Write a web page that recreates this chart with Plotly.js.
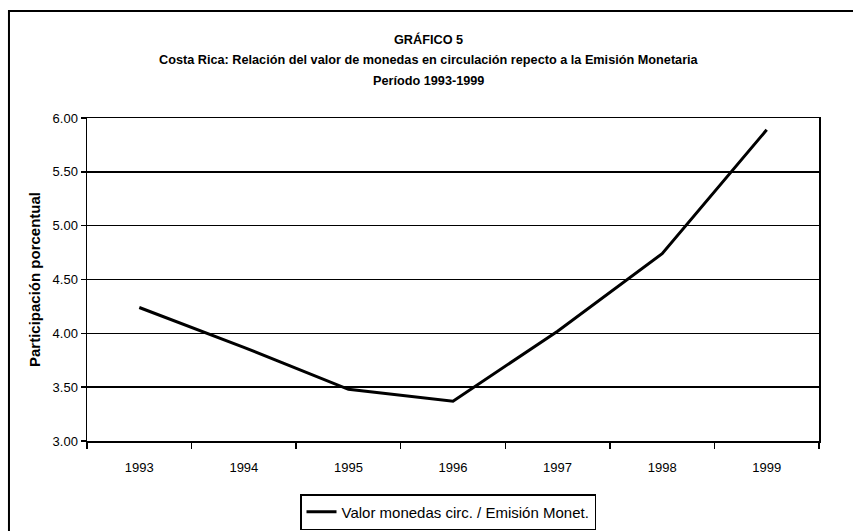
<!DOCTYPE html>
<html>
<head>
<meta charset="utf-8">
<script src="https://cdn.plot.ly/plotly-3.0.1.min.js"></script>
<style>html,body{margin:0;padding:0;background:#fff;}#chart{width:853px;height:531px;}</style>
</head>
<body>
<div id="chart"></div>
<script>
var years = ["1993", "1994", "1995", "1996", "1997", "1998", "1999"];
var ratio = [4.24, 3.87, 3.48, 3.37, 4.02, 4.74, 5.89];
var seriesName = "Valor monedas circ. / Emisión Monet.";
var yTicks = [3.0, 3.5, 4.0, 4.5, 5.0, 5.5, 6.0];
var titleLines = [
  "GRÁFICO 5",
  "Costa Rica: Relación del valor de monedas en circulación repecto a la Emisión Monetaria",
  "Período 1993-1999"
];

var FONT = "Liberation Sans, Arial, sans-serif";

var trace = {
  x: years,
  y: ratio,
  type: "scatter",
  mode: "lines",
  name: seriesName,
  line: {color: "#000000", width: 3}
};

var titleY = [1.2415, 1.1796, 1.1146];
var annotations = titleLines.map(function (t, i) {
  return {
    text: "<b>" + t + "</b>",
    xref: "paper", yref: "paper",
    x: 0.467, y: titleY[i],
    xanchor: "center", yanchor: "middle",
    showarrow: false,
    font: {family: FONT, size: 12.7, color: "#000000"}
  };
});

var layout = {
  width: 853,
  height: 531,
  margin: {l: 87, r: 34, t: 118, b: 90},
  paper_bgcolor: "#ffffff",
  plot_bgcolor: "#ffffff",
  font: {family: FONT, color: "#000000", size: 13},
  xaxis: {
    type: "category",
    range: [-0.5, 6.5],
    showgrid: false,
    showline: true, linecolor: "#000000", linewidth: 1.5,
    mirror: true,
    ticks: "outside", ticklen: 6, tickwidth: 1.5, tickcolor: "#000000",
    tickson: "boundaries",
    ticklabelstandoff: 14,
    tickfont: {family: FONT, size: 13},
    zeroline: false,
    automargin: false,
    fixedrange: true
  },
  yaxis: {
    range: [3, 6],
    tickvals: yTicks,
    tickformat: ".2f",
    showgrid: true, gridcolor: "#000000", gridwidth: 1.5,
    showline: true, linecolor: "#000000", linewidth: 1.5,
    mirror: true,
    ticks: "outside", ticklen: 5, tickwidth: 1.5, tickcolor: "#000000",
    tickfont: {family: FONT, size: 13},
    zeroline: false,
    automargin: false,
    title: {text: "<b>Participación porcentual</b>", font: {family: FONT, size: 15}, standoff: 8},
    fixedrange: true
  },
  showlegend: true,
  legend: {
    orientation: "h",
    xref: "container", yref: "container",
    x: 300 / 853, xanchor: "left",
    y: (531 - 494) / 531, yanchor: "top",
    bordercolor: "#000000", borderwidth: 1.5,
    bgcolor: "#ffffff",
    font: {family: FONT, size: 15},
    itemwidth: 30,
    tracegroupgap: 0
  },
  annotations: annotations,
  shapes: [{
    type: "rect", xref: "paper", yref: "paper",
    x0: -0.1066, x1: 2, y0: -2, y1: 1.331,
    line: {color: "#000000", width: 2},
    fillcolor: "rgba(0,0,0,0)",
    layer: "below"
  }]
};

Plotly.newPlot("chart", [trace], layout, {staticPlot: true, displayModeBar: false});
</script>
</body>
</html>
